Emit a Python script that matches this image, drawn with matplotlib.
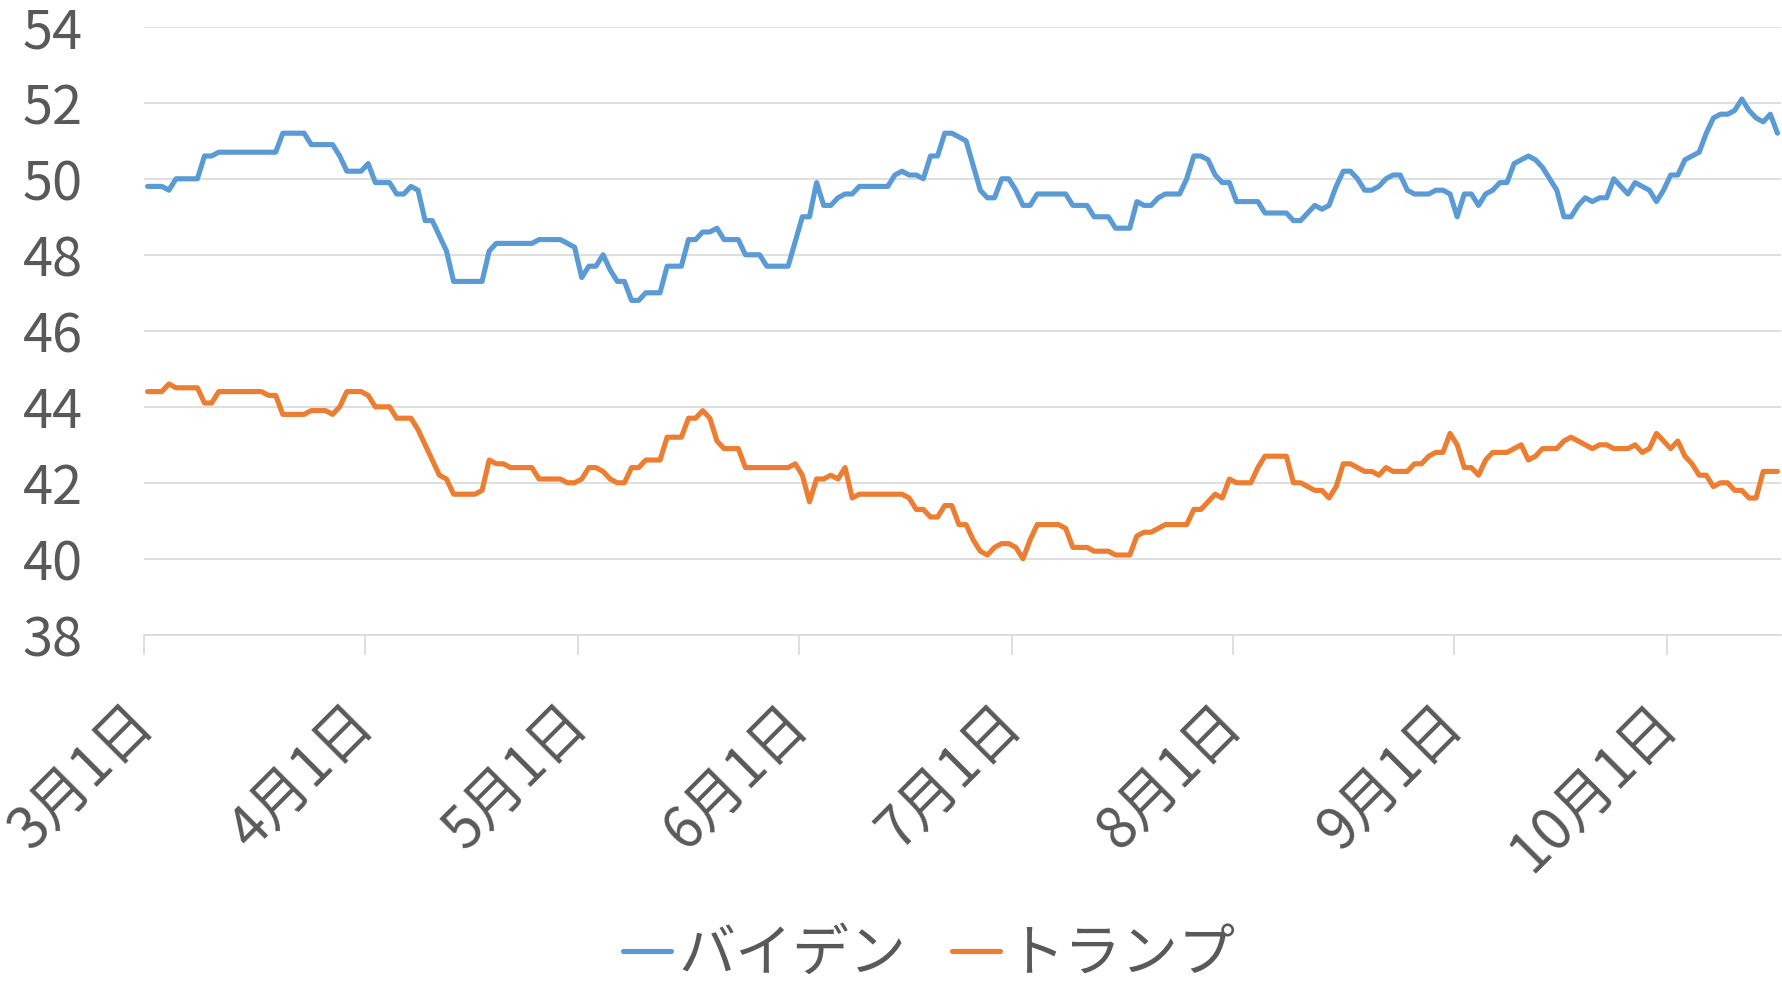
import matplotlib
matplotlib.use("Agg")
import matplotlib.pyplot as plt
import pandas as pd

plt.rcParams['font.family'] = ['Noto Sans CJK JP', 'DejaVu Sans']

START = "2020-03-01"

# days since START, values
biden_day = [0, 2, 3, 4, 7, 8, 9, 10, 18, 19, 22, 23, 26, 27, 28, 30, 31, 32, 34, 35,
             36, 37, 38, 39, 40, 42, 43, 47, 48, 49, 54, 55, 58, 60, 61, 62, 63, 64, 65, 66,
             67, 68, 69, 70, 72, 73, 75, 76, 77, 78, 79, 80, 81, 83, 84, 86, 87, 90, 92, 93,
             94, 95, 96, 97, 98, 99, 100, 104, 105, 106, 107, 108, 109, 110, 111, 112, 113, 115, 117, 118,
             119, 120, 121, 122, 123, 124, 125, 129, 130, 132, 133, 135, 136, 138, 139, 140, 141, 142, 143, 145,
             146, 147, 148, 149, 150, 151, 152, 153, 156, 157, 160, 161, 162, 163, 164, 165, 166, 167, 168, 169,
             170, 171, 172, 173, 174, 175, 176, 177, 178, 180, 181, 182, 183, 184, 185, 186, 187, 188, 189, 190,
             191, 192, 193, 194, 195, 196, 197, 198, 199, 200, 201, 202, 203, 204, 205, 206, 207, 208, 209, 210,
             211, 212, 213, 214, 215, 216, 217, 218, 219, 220, 221, 222, 223, 224, 225, 226, 227, 228, 229]
biden_val = [49.8, 49.8, 49.7, 50.0, 50.0, 50.6, 50.6, 50.7, 50.7, 51.2, 51.2, 50.9, 50.9, 50.6, 50.2, 50.2, 50.4, 49.9, 49.9, 49.6,
             49.6, 49.8, 49.7, 48.9, 48.9, 48.1, 47.3, 47.3, 48.1, 48.3, 48.3, 48.4, 48.4, 48.2, 47.4, 47.7, 47.7, 48.0, 47.6, 47.3,
             47.3, 46.8, 46.8, 47.0, 47.0, 47.7, 47.7, 48.4, 48.4, 48.6, 48.6, 48.7, 48.4, 48.4, 48.0, 48.0, 47.7, 47.7, 49.0, 49.0,
             49.9, 49.3, 49.3, 49.5, 49.6, 49.6, 49.8, 49.8, 50.1, 50.2, 50.1, 50.1, 50.0, 50.6, 50.6, 51.2, 51.2, 51.0, 49.7, 49.5,
             49.5, 50.0, 50.0, 49.7, 49.3, 49.3, 49.6, 49.6, 49.3, 49.3, 49.0, 49.0, 48.7, 48.7, 49.4, 49.3, 49.3, 49.5, 49.6, 49.6,
             50.0, 50.6, 50.6, 50.5, 50.1, 49.9, 49.9, 49.4, 49.4, 49.1, 49.1, 48.9, 48.9, 49.1, 49.3, 49.2, 49.3, 49.8, 50.2, 50.2,
             50.0, 49.7, 49.7, 49.8, 50.0, 50.1, 50.1, 49.7, 49.6, 49.6, 49.7, 49.7, 49.6, 49.0, 49.6, 49.6, 49.3, 49.6, 49.7, 49.9,
             49.9, 50.4, 50.5, 50.6, 50.5, 50.3, 50.0, 49.7, 49.0, 49.0, 49.3, 49.5, 49.4, 49.5, 49.5, 50.0, 49.8, 49.6, 49.9, 49.8,
             49.7, 49.4, 49.7, 50.1, 50.1, 50.5, 50.6, 50.7, 51.2, 51.6, 51.7, 51.7, 51.8, 52.1, 51.8, 51.6, 51.5, 51.7, 51.2]

trump_day = [0, 2, 3, 4, 7, 8, 9, 10, 16, 17, 18, 19, 22, 23, 25, 26, 27, 28, 30, 31,
             32, 34, 35, 37, 38, 41, 42, 43, 46, 47, 48, 49, 50, 51, 54, 55, 58, 59, 60, 61,
             62, 63, 64, 65, 66, 67, 68, 69, 70, 72, 73, 75, 76, 77, 78, 79, 80, 81, 83, 84,
             90, 91, 92, 93, 94, 95, 96, 97, 98, 99, 100, 106, 107, 108, 109, 110, 111, 112, 113, 114,
             115, 116, 117, 118, 119, 120, 121, 122, 123, 124, 125, 128, 129, 130, 132, 133, 135, 136, 138, 139,
             140, 141, 142, 143, 146, 147, 148, 149, 150, 151, 152, 153, 155, 156, 157, 160, 161, 162, 163, 164,
             165, 166, 167, 168, 169, 170, 171, 172, 173, 174, 175, 177, 178, 179, 180, 181, 182, 183, 184, 185,
             186, 187, 188, 189, 191, 192, 193, 194, 195, 196, 198, 199, 200, 201, 202, 203, 204, 205, 206, 208,
             209, 210, 211, 212, 213, 214, 215, 216, 217, 218, 219, 220, 221, 222, 223, 224, 225, 226, 227, 229]
trump_val = [44.4, 44.4, 44.6, 44.5, 44.5, 44.1, 44.1, 44.4, 44.4, 44.3, 44.3, 43.8, 43.8, 43.9, 43.9, 43.8, 44.0, 44.4, 44.4, 44.3,
             44.0, 44.0, 43.7, 43.7, 43.4, 42.2, 42.1, 41.7, 41.7, 41.8, 42.6, 42.5, 42.5, 42.4, 42.4, 42.1, 42.1, 42.0, 42.0, 42.1,
             42.4, 42.4, 42.3, 42.1, 42.0, 42.0, 42.4, 42.4, 42.6, 42.6, 43.2, 43.2, 43.7, 43.7, 43.9, 43.7, 43.1, 42.9, 42.9, 42.4,
             42.4, 42.5, 42.2, 41.5, 42.1, 42.1, 42.2, 42.1, 42.4, 41.6, 41.7, 41.7, 41.6, 41.3, 41.3, 41.1, 41.1, 41.4, 41.4, 40.9,
             40.9, 40.5, 40.2, 40.1, 40.3, 40.4, 40.4, 40.3, 40.0, 40.5, 40.9, 40.9, 40.8, 40.3, 40.3, 40.2, 40.2, 40.1, 40.1, 40.6,
             40.7, 40.7, 40.8, 40.9, 40.9, 41.3, 41.3, 41.5, 41.7, 41.6, 42.1, 42.0, 42.0, 42.4, 42.7, 42.7, 42.0, 42.0, 41.9, 41.8,
             41.8, 41.6, 41.9, 42.5, 42.5, 42.4, 42.3, 42.3, 42.2, 42.4, 42.3, 42.3, 42.5, 42.5, 42.7, 42.8, 42.8, 43.3, 43.0, 42.4,
             42.4, 42.2, 42.6, 42.8, 42.8, 42.9, 43.0, 42.6, 42.7, 42.9, 42.9, 43.1, 43.2, 43.1, 43.0, 42.9, 43.0, 43.0, 42.9, 42.9,
             43.0, 42.8, 42.9, 43.3, 43.1, 42.9, 43.1, 42.7, 42.5, 42.2, 42.2, 41.9, 42.0, 42.0, 41.8, 41.8, 41.6, 41.6, 42.3, 42.3]

series_names = ["バイデン", "トランプ"]
tick_months = [3, 4, 5, 6, 7, 8, 9, 10]
tick_labels = [f"{m}月1日" for m in tick_months]
y_ticks = [38, 40, 42, 44, 46, 48, 50, 52, 54]

W, H = 1783, 986
fig = plt.figure(figsize=(W / 100, H / 100), dpi=100)
ax = fig.add_axes([144 / W, 1 - 634.8 / H, (1781 - 144) / W, (634.8 - 26.8) / H])

start = pd.Timestamp(START)
half = pd.Timedelta(hours=12)
bx = [start + pd.Timedelta(days=d) + half for d in biden_day]
tx = [start + pd.Timedelta(days=d) + half for d in trump_day]

lw = 3.7
ax.plot(bx, biden_val, color="#5B9BD5", lw=lw, solid_joinstyle="round",
        solid_capstyle="round", label=series_names[0], zorder=3)
ax.plot(tx, trump_val, color="#ED7D31", lw=lw, solid_joinstyle="round",
        solid_capstyle="round", label=series_names[1], zorder=3)

ax.set_ylim(38, 54)
ax.set_yticks(y_ticks)
ax.set_xlim(start, start + pd.Timedelta(days=230))
tick_dates = [pd.Timestamp(year=2020, month=m, day=1) for m in tick_months]
ax.set_xticks(tick_dates)
ax.set_xticklabels(tick_labels)

grid_c = "#D9D9D9"
ax.grid(axis="y", color=grid_c, lw=1.2, zorder=0)
for s in ["left", "right", "top"]:
    ax.spines[s].set_visible(False)
ax.spines["bottom"].set_color(grid_c)
ax.spines["bottom"].set_linewidth(1.2)

txt_c = "#595959"
ax.tick_params(axis="y", length=0, pad=44, labelsize=39, labelcolor=txt_c)
ax.tick_params(axis="x", length=14.4, width=1.2, color=grid_c, pad=43,
               labelsize=41, labelcolor=txt_c)
for lab in ax.get_xticklabels():
    lab.set_rotation(45)
    lab.set_rotation_mode("anchor")
    lab.set_ha("right")
    lab.set_va("center")

leg = fig.legend(loc="center", bbox_to_anchor=(0.521, 0.032), ncol=2, frameon=False,
                 fontsize=41, handlelength=0.85, handletextpad=0.12, columnspacing=0.8,
                 labelcolor=txt_c)

fig.savefig("out.png", dpi=100, facecolor="white")
